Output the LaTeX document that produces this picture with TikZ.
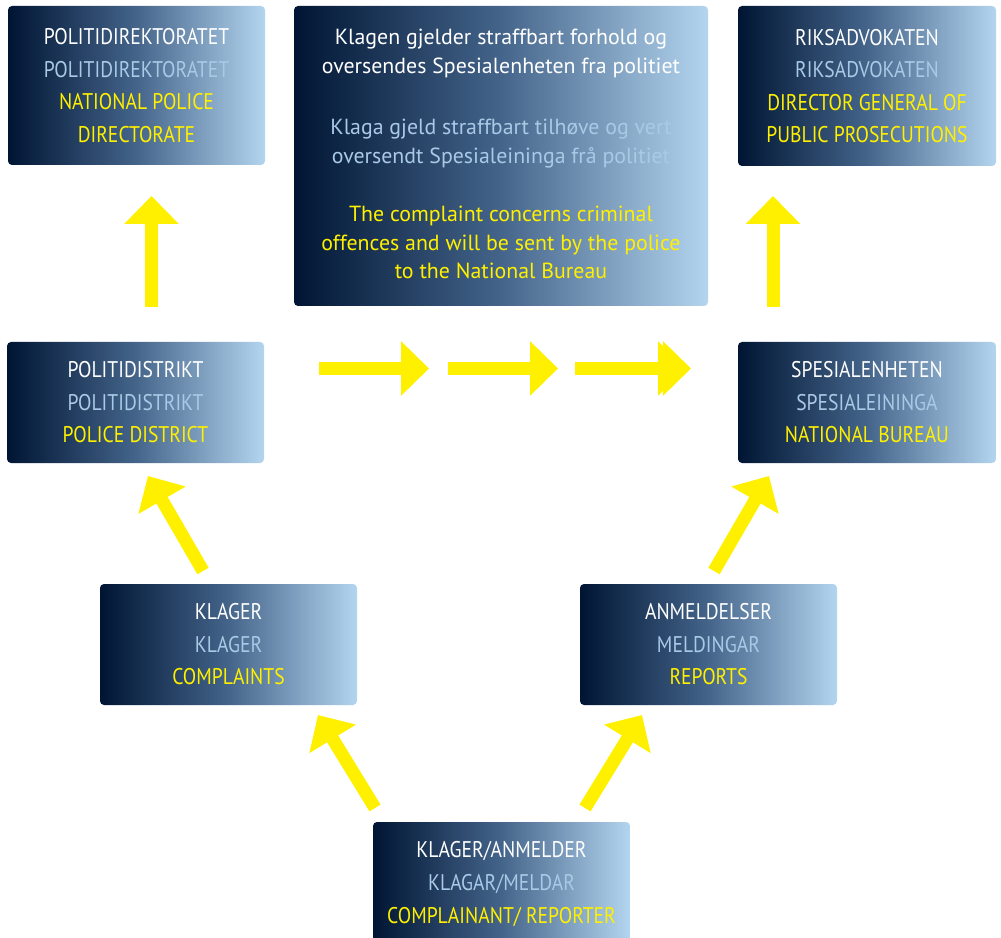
\documentclass[tikz,border=0pt]{standalone}
\usepackage{fontspec}
\setmainfont{PT Sans}
\newfontfamily\capsfont{PT Sans}[FakeStretch=0.865]
\usetikzlibrary{arrows.meta,calc}
\definecolor{navy}{HTML}{001533}
\definecolor{midblue}{HTML}{44648A}
\definecolor{pale}{HTML}{B4D5EF}
\definecolor{ltxt}{HTML}{A9C9E6}
\definecolor{ylw}{HTML}{FFF000}
\tikzset{
  box/.style={rounded corners=3pt, left color=navy, right color=pale, middle color=midblue, draw=none},
  lbl/.style={align=center, font=\capsfont\fontsize{17}{24.4}\selectfont, text=white, inner sep=0pt},
  lblsmall/.style={align=center, font=\fontsize{16.4}{21.6}\selectfont, text=white, inner sep=0pt},
  barrow/.style={draw=ylw, line width=9.75pt, -{Triangle[width=39.75pt,length=21pt,fill=ylw]}}
}
\begin{document}
\begin{tikzpicture}[x=0.75pt,y=-0.75pt]
\useasboundingbox (0,0) rectangle (1001,938);
\clip (0,0) rectangle (1001,938);
% boxes
\shade[box] (8,6) rectangle (265,165);
\shade[box] (294,6) rectangle (708,306);
\shade[box] (738,6) rectangle (996,166);
\shade[box] (7,342) rectangle (264,463);
\shade[box] (738,342) rectangle (996,463);
\shade[box] (100,584) rectangle (357,705);
\shade[box] (580,584) rectangle (837,705);
\shade[box] (373,822) rectangle (630,945);
% labels
\node[lbl] (pd) at (136.5,85.5) {POLITIDIREKTORATET\\ \textcolor{ltxt}{POLITIDIREKTORATET}\\ \textcolor{ylw}{NATIONAL POLICE}\\ \textcolor{ylw}{DIRECTORATE}};
\node[lblsmall] (cen) at (501,154.3) {Klagen gjelder straffbart forhold og\\ oversendes Spesialenheten fra politiet\\[24.2pt] \textcolor{ltxt}{Klaga gjeld straffbart tilhøve og vert}\\ \textcolor{ltxt}{oversendt Spesialeininga frå politiet}\\[\baselineskip] \textcolor{ylw}{The complaint concerns criminal}\\ \textcolor{ylw}{offences and will be sent by the police}\\ \textcolor{ylw}{to the National Bureau}};
\node[lbl] (ra) at (867,86) {RIKSADVOKATEN\\ \textcolor{ltxt}{RIKSADVOKATEN}\\ \textcolor{ylw}{DIRECTOR GENERAL OF}\\ \textcolor{ylw}{PUBLIC PROSECUTIONS}};
\node[lbl] (pdist) at (135.5,402.5) {POLITIDISTRIKT\\ \textcolor{ltxt}{POLITIDISTRIKT}\\ \textcolor{ylw}{POLICE DISTRICT}};
\node[lbl] (sp) at (867,402.5) {SPESIALENHETEN\\ \textcolor{ltxt}{SPESIALEININGA}\\ \textcolor{ylw}{NATIONAL BUREAU}};
\node[lbl] (kl) at (228.5,644.5) {KLAGER\\ \textcolor{ltxt}{KLAGER}\\ \textcolor{ylw}{COMPLAINTS}};
\node[lbl] (an) at (708.5,644.5) {ANMELDELSER\\ \textcolor{ltxt}{MELDINGAR}\\ \textcolor{ylw}{REPORTS}};
\node[lbl] (ka) at (501.5,884) {KLAGER/ANMELDER\\ \textcolor{ltxt}{KLAGAR/MELDAR}\\ \textcolor{ylw}{COMPLAINANT/ REPORTER}};
% arrow end points
\coordinate (t1) at (151.5,307); \coordinate (h1) at (151.5,196);
\coordinate (t2) at (773,307);   \coordinate (h2) at (773,196);
\coordinate (t3) at (319,368.5); \coordinate (h3) at (429,368.5);
\coordinate (t4) at (448,368.5); \coordinate (h4) at (558,368.5);
\coordinate (t5) at (575,368.5); \coordinate (h5) at (691,368.5); \coordinate (h5b) at (686,368.5);
\coordinate (t6) at (203,571);   \coordinate (h6) at (148,476);
\coordinate (t7) at (714,571);   \coordinate (h7) at (769,476);
\coordinate (t8) at (375,808);   \coordinate (h8) at (318,715);
\coordinate (t9) at (585,808);   \coordinate (h9) at (642,715);
\foreach \a/\b in {t1/h1,t2/h2,t3/h3,t4/h4,t5/h5b,t5/h5,t6/h6,t7/h7,t8/h8,t9/h9}
  \draw[barrow] (\a) -- (\b);
\end{tikzpicture}
\end{document}
